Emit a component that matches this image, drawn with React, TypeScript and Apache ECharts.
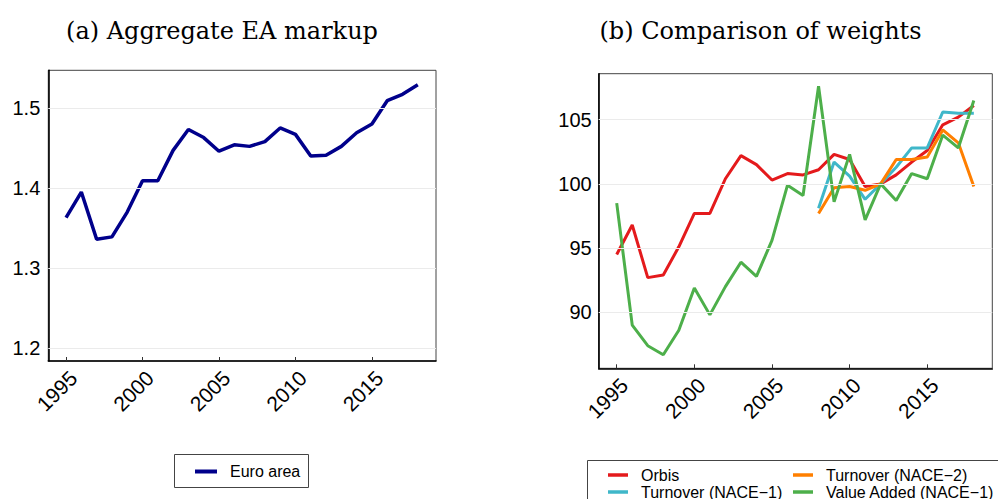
import React, { useEffect, useRef } from "react";
import * as echarts from "echarts";

// ---- Data ----
const years = [1995, 1996, 1997, 1998, 1999, 2000, 2001, 2002, 2003, 2004, 2005, 2006, 2007, 2008, 2009, 2010, 2011, 2012, 2013, 2014, 2015, 2016, 2017, 2018];
const yearsLate = [2008, 2009, 2010, 2011, 2012, 2013, 2014, 2015, 2016, 2017, 2018];

const euroArea = [1.363, 1.395, 1.336, 1.339, 1.370, 1.409, 1.409, 1.447, 1.473, 1.463, 1.446, 1.454, 1.452, 1.458, 1.475, 1.467, 1.440, 1.441, 1.452, 1.469, 1.480, 1.509, 1.517, 1.529];

const orbis = [94.5, 96.8, 92.7, 92.9, 95.1, 97.7, 97.7, 100.4, 102.2, 101.5, 100.3, 100.8, 100.7, 101.1, 102.3, 101.9, 99.8, 100.0, 100.7, 101.7, 102.6, 104.6, 105.2, 106.1];
const valueAdded1 = [98.5, 89.0, 87.4, 86.7, 88.6, 91.9, 89.8, 92.0, 93.9, 92.8, 95.6, 99.9, 99.1, 107.6, 98.6, 102.3, 97.2, 100.0, 98.7, 100.8, 100.4, 103.8, 102.8, 106.5];
const turnover1 = [98.1, 101.7, 100.6, 98.8, 100.0, 101.3, 102.8, 102.8, 105.6, 105.5, 105.5];
const turnover2 = [97.7, 99.7, 99.8, 99.5, 100.0, 101.9, 101.9, 102.1, 104.2, 103.2, 99.8];

const xTicks = [1995, 2000, 2005, 2010, 2015];
const yTicksA = [1.2, 1.3, 1.4, 1.5];
const yTicksB = [90, 95, 100, 105];

const titles = ["(a) Aggregate EA markup", "(b) Comparison of weights"];
const leftNames = ["Euro area"];
const rightNames = ["Orbis", "Turnover (NACE−1)", "Turnover (NACE−2)", "Value Added (NACE−1)"];

const pair = (xs: number[], ys: number[]) => xs.map((x, i) => [x, ys[i]]);

const FONT = "Liberation Sans, Arial, Helvetica, sans-serif";
const SERIF = "DejaVu Serif, serif";
const TICK_FS = 20;

function xAxisFor(gridIndex: number) {
  return {
    type: "value",
    gridIndex,
    min: 1993.84,
    max: 2019.19,
    axisLine: { show: true, onZero: false, lineStyle: { color: "#000", width: 1.6 } },
    axisTick: { show: true, inside: true, length: 4, customValues: xTicks, lineStyle: { color: "#333", width: 1 } },
    axisLabel: {
      customValues: xTicks,
      rotate: 45,
      margin: 6,
      verticalAlign: "top",
      fontSize: 21,
      color: "#000",
      fontFamily: FONT,
      formatter: (v: number) => String(v),
    },
    splitLine: { show: false },
  };
}

function yAxisFor(gridIndex: number, min: number, max: number, ticks: number[], digits: number, margin: number) {
  return {
    type: "value",
    gridIndex,
    min,
    max,
    axisLine: { show: true, onZero: false, lineStyle: { color: "#000", width: 1.6 } },
    axisTick: { show: true, inside: true, length: 4, customValues: ticks, lineStyle: { color: "#333", width: 1 } },
    axisLabel: {
      customValues: ticks,
      margin,
      fontSize: TICK_FS,
      color: "#000",
      fontFamily: FONT,
      formatter: (v: number) => v.toFixed(digits),
    },
    splitLine: { show: false },
  };
}

function gridLines(xi: number, yi: number, ticks: number[]) {
  return {
    type: "line",
    xAxisIndex: xi,
    yAxisIndex: yi,
    data: [],
    z: 1,
    silent: true,
    markLine: {
      silent: true,
      symbol: "none",
      label: { show: false },
      lineStyle: { color: "#ebebeb", width: 1, type: "solid" },
      data: ticks.map((t) => ({ yAxis: t })),
    },
  };
}

function legendFor(names: string[], left: number, top: number, iw: number, ih: number) {
  return {
    data: names,
    left,
    top,
    height: 80,
    orient: "vertical",
    icon: "rect",
    itemGap: 1,
    itemWidth: iw,
    itemHeight: ih,
    padding: 0,
    textStyle: { fontSize: 16, fontFamily: FONT, color: "#000", padding: [0, 0, 0, 8] },
  };
}

export default function App() {
  const ref = useRef<HTMLDivElement>(null);
  useEffect(() => {
    if (!ref.current) return;
    const chart = echarts.init(ref.current, null, { renderer: "svg" });
    const option = {
      animation: false,
      backgroundColor: "#fff",
      grid: [
        { left: 48.3, top: 70.3, width: 387.7, height: 290.7, show: true, borderColor: "#444", borderWidth: 1, containLabel: false },
        { left: 598.7, top: 73.7, width: 393.6, height: 294.6, show: true, borderColor: "#444", borderWidth: 1, containLabel: false },
      ],
      xAxis: [xAxisFor(0), xAxisFor(1)],
      yAxis: [
        yAxisFor(0, 1.184, 1.547, yTicksA, 1, 8),
        yAxisFor(1, 85.64, 108.58, yTicksB, 0, 7),
      ],
      legend: [
        legendFor(leftNames, 195, 463.5, 22, 4),
        legendFor(rightNames.slice(0, 2), 608, 467, 20, 3.5),
        legendFor(rightNames.slice(2, 4), 793, 467, 20, 3.5),
      ],
      graphic: [
        {
          type: "text",
          x: 222,
          y: 31,
          silent: true,
          style: { text: titles[0], textAlign: "center", textVerticalAlign: "middle", fontFamily: SERIF, fontSize: 24, fill: "#000" },
        },
        {
          type: "text",
          x: 760.5,
          y: 31,
          silent: true,
          style: { text: titles[1], textAlign: "center", textVerticalAlign: "middle", fontFamily: SERIF, fontSize: 24, fill: "#000" },
        },
        { type: "rect", shape: { x: 174.5, y: 454.5, width: 134, height: 33 }, style: { fill: "none", stroke: "#444", lineWidth: 1 }, silent: true },
        { type: "rect", shape: { x: 587.5, y: 460.5, width: 430, height: 60 }, style: { fill: "none", stroke: "#444", lineWidth: 1 }, silent: true },
      ],
      series: [
        gridLines(0, 0, yTicksA),
        gridLines(1, 1, yTicksB),
        {
          name: leftNames[0],
          type: "line",
          xAxisIndex: 0,
          yAxisIndex: 0,
          data: pair(years, euroArea),
          symbol: "none",
          z: 3,
          color: "#00008B",
          lineStyle: { color: "#00008B", width: 3.5 },
        },
        {
          name: rightNames[0],
          type: "line",
          xAxisIndex: 1,
          yAxisIndex: 1,
          data: pair(years, orbis),
          symbol: "none",
          z: 3,
          color: "#E41A1C",
          lineStyle: { color: "#E41A1C", width: 3 },
        },
        {
          name: rightNames[1],
          type: "line",
          xAxisIndex: 1,
          yAxisIndex: 1,
          data: pair(yearsLate, turnover1),
          symbol: "none",
          z: 3,
          color: "#3FB7C9",
          lineStyle: { color: "#3FB7C9", width: 3 },
        },
        {
          name: rightNames[2],
          type: "line",
          xAxisIndex: 1,
          yAxisIndex: 1,
          data: pair(yearsLate, turnover2),
          symbol: "none",
          z: 3,
          color: "#FF7F00",
          lineStyle: { color: "#FF7F00", width: 3 },
        },
        {
          name: rightNames[3],
          type: "line",
          xAxisIndex: 1,
          yAxisIndex: 1,
          data: pair(years, valueAdded1),
          symbol: "none",
          z: 3,
          color: "#4DAF4A",
          lineStyle: { color: "#4DAF4A", width: 3 },
        },
      ],
    };
    chart.setOption(option as any);
    return () => chart.dispose();
  }, []);
  return (
    <div
      ref={ref}
      style={{ position: "fixed", left: 0, top: 0, width: 998, height: 499 }}
    />
  );
}
